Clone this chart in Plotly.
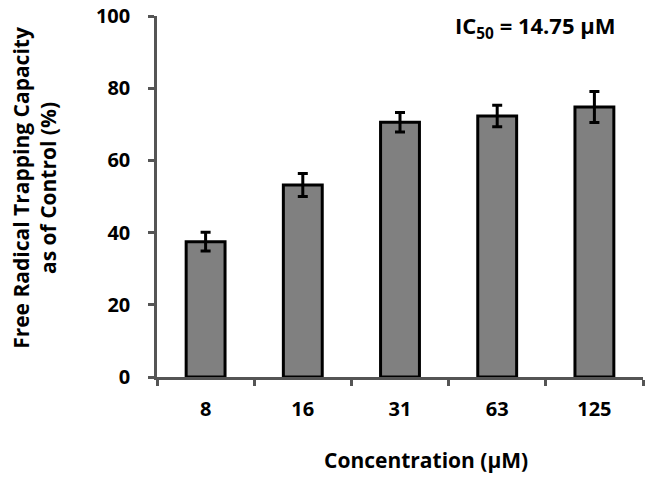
import plotly.graph_objects as go

categories = ["8", "16", "31", "63", "125"]
values = [37.5, 53.2, 70.6, 72.3, 74.8]
errors = [2.6, 3.2, 2.7, 3.0, 4.3]
y_ticks = [0, 20, 40, 60, 80, 100]

FONT = "Open Sans"

fig = go.Figure()
fig.add_trace(go.Bar(
    x=categories, y=values,
    width=0.4,
    marker=dict(color="#808080", line=dict(color="black", width=3)),
    error_y=dict(type="data", array=errors, visible=True, color="black", thickness=3, width=5),
))

fig.update_layout(
    width=646, height=470,
    margin=dict(l=149, r=11, t=8, b=101),
    plot_bgcolor="white", paper_bgcolor="white",
    showlegend=False,
    font=dict(family=FONT, color="black"),
    xaxis=dict(
        type="category", range=[-0.5, 4.5], automargin=False,
        showline=True, linecolor="#555555", linewidth=2.5,
        ticks="outside", tickson="boundaries", ticklen=6, tickwidth=2.5, tickcolor="#555555",
        tickfont=dict(family=FONT, size=20, color="black", weight="bold"),
        ticklabelstandoff=12, ticklabeloverflow="allow",
        showgrid=False, zeroline=False,
    ),
    yaxis=dict(
        range=[0, 100], tickvals=y_ticks, automargin=False,
        showline=True, linecolor="#555555", linewidth=2.5,
        ticks="outside", ticklen=6, tickwidth=2.5, tickcolor="#555555",
        tickfont=dict(family=FONT, size=20, color="black", weight="bold"),
        ticklabelstandoff=14, ticklabeloverflow="allow",
        showgrid=False, zeroline=False,
    ),
    annotations=[
        dict(
            text="<b>IC<sub>50</sub> = 14.75 µM</b>",
            xref="paper", yref="paper", x=0.778, y=0.97,
            xanchor="center", yanchor="middle", showarrow=False,
            font=dict(family=FONT, size=22, color="black"),
        ),
        dict(
            text="<b>Concentration (µM)</b>",
            xref="paper", yref="paper", x=0.553, y=-0.23,
            xanchor="center", yanchor="middle", showarrow=False,
            font=dict(family=FONT, size=21, color="black"),
        ),
        dict(
            text="<b>Free Radical Trapping Capacity<br>as of Control (%)</b>",
            xref="paper", yref="paper", x=-0.251, y=0.524,
            xanchor="center", yanchor="middle", showarrow=False, textangle=-90,
            font=dict(family=FONT, size=21, color="black"),
        ),
    ],
)

fig.write_html("out.html")
